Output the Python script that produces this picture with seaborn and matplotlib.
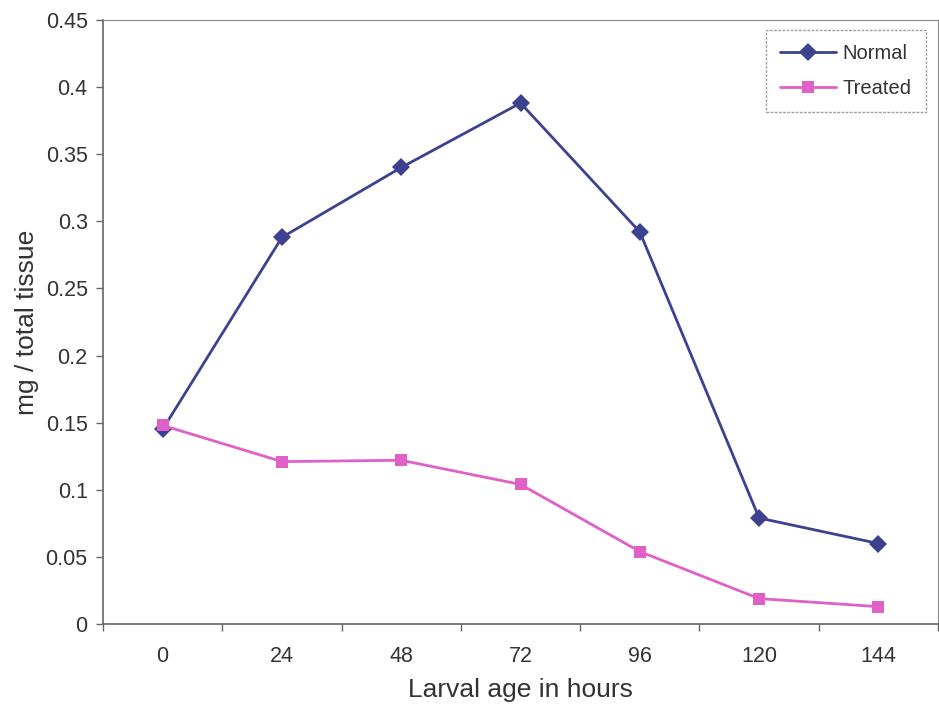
import numpy as np
import pandas as pd
import matplotlib
matplotlib.use("Agg")
import matplotlib.pyplot as plt
import seaborn as sns

# data
hours = ["0", "24", "48", "72", "96", "120", "144"]
normal = [0.145, 0.288, 0.340, 0.388, 0.292, 0.079, 0.060]
treated = [0.148, 0.121, 0.122, 0.104, 0.054, 0.019, 0.013]

df = pd.DataFrame({
    "pos": list(range(len(hours))) * 2,
    "value": normal + treated,
    "group": ["Normal"] * len(hours) + ["Treated"] * len(hours),
})

sns.set_style("white")
plt.rcParams["font.family"] = ["Liberation Sans", "DejaVu Sans"]

fig = plt.figure(figsize=(9.39, 7.06), dpi=100)
ax = fig.add_axes([0.1097, 0.116, 0.8893, 0.856])

sns.lineplot(
    data=df, x="pos", y="value", hue="group", style="group",
    markers={"Normal": "D", "Treated": "s"}, dashes=False,
    palette={"Normal": "#3c4190", "Treated": "#e060c8"},
    markersize=9, linewidth=2, markeredgewidth=0, ax=ax,
)

ax.set_xlim(-0.5, len(hours) - 0.5)
ax.set_ylim(0, 0.45)
ax.set_xticks(range(len(hours)))
ax.set_xticklabels(hours)
ax.set_xticks(np.arange(-0.5, len(hours), 1), minor=True)
ax.set_yticks(np.arange(0, 0.46, 0.05))
ax.set_yticklabels(["0", "0.05", "0.1", "0.15", "0.2", "0.25", "0.3", "0.35", "0.4", "0.45"])

ax.tick_params(axis="x", which="both", bottom=True)
ax.tick_params(axis="y", left=True)
ax.tick_params(axis="x", which="major", length=0, labelsize=15.5, labelcolor="#333333", pad=16)
ax.tick_params(axis="x", which="minor", length=5, width=1, direction="out", color="#666666")
ax.tick_params(axis="y", length=5, width=1, direction="out", labelsize=15.5,
               color="#666666", labelcolor="#333333", pad=6)

for side in ["left", "bottom"]:
    ax.spines[side].set_color("#666666")
    ax.spines[side].set_linewidth(1.2)
ax.spines["left"].set_linestyle((0, (1, 1)))
ax.spines["top"].set_color("#888888")
ax.spines["right"].set_color("#888888")

ax.set_xlabel("Larval age in hours", fontsize=19, color="#333333", labelpad=8)
ax.set_ylabel("mg / total tissue", fontsize=19, color="#333333", labelpad=5)

leg = ax.legend(
    loc="upper right", bbox_to_anchor=(0.985, 0.983), borderaxespad=0,
    frameon=True, fancybox=False, fontsize=14.5, handlelength=2.8,
    borderpad=0.7, labelspacing=0.8, handletextpad=0.3, title=None,
)
leg.get_frame().set_edgecolor("#888888")
leg.get_frame().set_linestyle((0, (2, 1)))
for t in leg.get_texts():
    t.set_color("#333333")

fig.savefig("out.png", dpi=100)
